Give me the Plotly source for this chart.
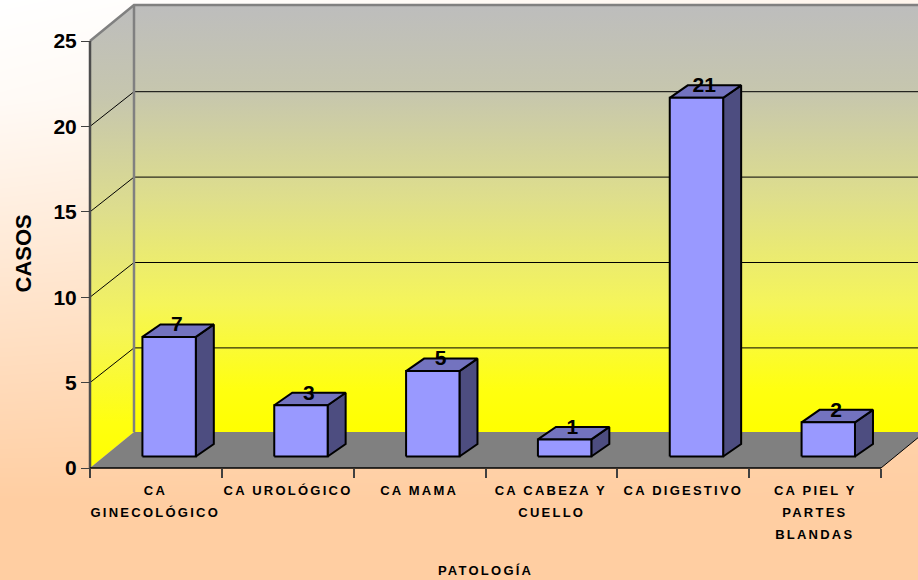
import plotly.graph_objects as go

# Chart data
categories = [
    ["CA", "GINECOLÓGICO"],
    ["CA UROLÓGICO"],
    ["CA MAMA"],
    ["CA CABEZA Y", "CUELLO"],
    ["CA DIGESTIVO"],
    ["CA PIEL Y", "PARTES", "BLANDAS"],
]
casos = [7, 3, 5, 1, 21, 2]
y_ticks = [0, 5, 10, 15, 20, 25]
x_title = "PATOLOGÍA"
y_title = "CASOS"

W, H = 918, 580
LEFT, RIGHT, TOP, BOTTOM = 90, 881, 41, 468

# Pixel-to-data scales of the front plane of the oblique box
SLOT_PX = (RIGHT - LEFT) / len(casos)
UNIT_PX = (BOTTOM - TOP) / max(y_ticks)
X_RANGE = [-LEFT / SLOT_PX, (W - LEFT) / SLOT_PX]
Y_RANGE = [-(H - BOTTOM) / UNIT_PX, BOTTOM / UNIT_PX]


def oblique(x, y, dx_px=0.0, dy_px=0.0):
    """Shift a data point back into the box by a depth given in pixels."""
    return x + dx_px / SLOT_PX, y + dy_px / UNIT_PX


WALL_DX, WALL_DY = 44, 36
GRID_DY = 34.7
BAR_HALF = 26.7 / SLOT_PX
BAR_NEAR = (13.2, 11.5)
BAR_FAR = (31.2, 24)
YMAX = max(y_ticks)
XMAX = len(casos)
GRID = "#000000"
EDGE = "#808080"
PAGE_PEACH = "#FFCEA2"

fig = go.Figure()


def page_y(px):
    """Data-space height of a row given from the top of the page."""
    return Y_RANGE[1] - px / UNIT_PX


# Soft page background, filling the whole figure
fig.add_trace(go.Heatmap(
    x=X_RANGE,
    y=[page_y(H), page_y(500), page_y(390), page_y(190), page_y(100), page_y(0)],
    z=[[0.0, 0.0], [0.0, 0.0], [0.24, 0.12], [0.70, 0.45], [0.90, 0.65], [1.0, 0.8]],
    zmin=0, zmax=1, zsmooth="best", showscale=False, hoverinfo="skip",
    colorscale=[[0, PAGE_PEACH], [1, "#FFFFFF"]],
))


def poly(points, **kw):
    xs = [p[0] for p in points] + [points[0][0]]
    ys = [p[1] for p in points] + [points[0][1]]
    fig.add_trace(go.Scatter(x=xs, y=ys, hoverinfo="skip", showlegend=False, **kw))


def line(points, color, width):
    fig.add_trace(go.Scatter(
        x=[p[0] for p in points], y=[p[1] for p in points], mode="lines",
        line=dict(color=color, width=width), hoverinfo="skip", showlegend=False))


# Wall gradient, grey at the top fading to pure yellow near the floor
wall_scale = [
    [0.0, "#FFFF00"], [0.10, "#FFFF10"], [0.30, "#F5F55A"], [0.55, "#DEDE8C"],
    [0.80, "#C6C6AE"], [1.0, "#BDBDBD"],
]
wall_floor = oblique(0, 0, 0, WALL_DY)[1]
wall_top = oblique(0, YMAX, 0, WALL_DY)[1]
gradient = dict(type="vertical", colorscale=wall_scale, start=wall_floor, stop=wall_top)

# Back wall
poly([oblique(0, 0, WALL_DX, WALL_DY), oblique(XMAX, 0, WALL_DX, WALL_DY),
      oblique(XMAX, YMAX, WALL_DX, WALL_DY), oblique(0, YMAX, WALL_DX, WALL_DY)],
     mode="none", fill="toself", fillgradient=gradient)
# Left wall
poly([(0, 0), oblique(0, 0, WALL_DX, WALL_DY),
      oblique(0, YMAX, WALL_DX, WALL_DY), (0, YMAX)],
     mode="none", fill="toself", fillgradient=dict(
         type="vertical", colorscale=wall_scale, start=0, stop=wall_top))
# Floor
poly([(0, 0), (XMAX, 0), oblique(XMAX, 0, WALL_DX, WALL_DY), oblique(0, 0, WALL_DX, WALL_DY)],
     mode="none", fill="toself", fillcolor="#808080")

# Gridlines along left wall and back wall
for v in y_ticks[1:-1]:
    line([(0, v), oblique(0, v, WALL_DX, GRID_DY), oblique(XMAX, v, WALL_DX, GRID_DY)], GRID, 1)

# Box edges
line([oblique(0, 0, WALL_DX, WALL_DY), oblique(0, YMAX, WALL_DX, WALL_DY)], EDGE, 2.5)
line([(0, YMAX), oblique(0, YMAX, WALL_DX, WALL_DY), oblique(XMAX, YMAX, WALL_DX, WALL_DY)], EDGE, 2.5)
line([(XMAX, 0), oblique(XMAX, 0, WALL_DX, WALL_DY)], "#000000", 1)

# Front axis lines
line([(0, 0), (0, YMAX)], "#4D4D4D", 2.5)
line([(0, 0), (XMAX, 0)], "#000000", 1.5)

# Bars as three faces each
for i, v in enumerate(casos):
    xl, xr = i + 0.5 - BAR_HALF, i + 0.5 + BAR_HALF
    fl0 = oblique(xl, 0, *BAR_NEAR)
    fr0 = oblique(xr, 0, *BAR_NEAR)
    fl1 = oblique(xl, v, *BAR_NEAR)
    fr1 = oblique(xr, v, *BAR_NEAR)
    br0 = oblique(xr, 0, *BAR_FAR)
    br1 = oblique(xr, v, *BAR_FAR)
    bl1 = oblique(xl, v, *BAR_FAR)
    outline = dict(color="#000000", width=2)
    poly([fr0, br0, br1, fr1], mode="lines", fill="toself", fillcolor="#4D4D80", line=outline)
    poly([fl1, fr1, br1, bl1], mode="lines", fill="toself", fillcolor="#7373BF", line=outline)
    poly([fl0, fr0, fr1, fl1], mode="lines", fill="toself", fillcolor="#9999FF", line=outline)

# Value labels above each bar
label_pts = [oblique(i + 0.5, v, 21, 22.5) for i, v in enumerate(casos)]
fig.add_trace(go.Scatter(
    x=[p[0] for p in label_pts], y=[p[1] for p in label_pts], mode="text",
    text=[str(v) for v in casos], textposition="middle center",
    textfont=dict(family="Liberation Sans", size=21, color="#000000", weight="bold"),
    hoverinfo="skip", showlegend=False,
))

caption_font = dict(family="Liberation Sans", size=13, color="#000000", weight="bold")

# Category labels, line by line with a wide leading
annotations = []
for i, lines in enumerate(categories):
    for j, txt in enumerate(lines):
        annotations.append(dict(
            x=i + 0.5, y=0, xref="x", yref="y", yshift=-22 - 22 * j,
            text=txt, showarrow=False, xanchor="center", yanchor="middle",
            font=caption_font,
        ))

# Axis captions placed beside the box
annotations.append(dict(
    x=XMAX / 2, y=0, xref="x", yref="y", yshift=-102,
    text=x_title, showarrow=False, xanchor="center", yanchor="middle",
    font=caption_font,
))
annotations.append(dict(
    x=0, y=YMAX / 2, xref="x", yref="y", xshift=-67.5, yshift=0.5, textangle=-90,
    text=y_title, showarrow=False, xanchor="center", yanchor="middle",
    font=dict(family="Liberation Sans", size=22, color="#000000", weight="bold"),
))

fig.update_layout(
    width=W, height=H, margin=dict(l=0, r=0, t=0, b=0),
    paper_bgcolor=PAGE_PEACH, plot_bgcolor="rgba(0,0,0,0)", showlegend=False,
    annotations=annotations,
    xaxis=dict(
        domain=[0, 1], range=X_RANGE, anchor="free", position=1 - BOTTOM / H,
        showgrid=False, zeroline=False, showline=False, automargin=False, fixedrange=True,
        tickvals=list(range(XMAX + 1)), ticktext=[""] * (XMAX + 1),
        ticks="outside", ticklen=9, tickcolor="#404040", tickwidth=1.5,
    ),
    yaxis=dict(
        domain=[0, 1], range=Y_RANGE, anchor="free", position=LEFT / W,
        showgrid=False, zeroline=False, showline=False, automargin=False, fixedrange=True,
        tickvals=y_ticks, ticks="outside", ticklen=9, tickcolor="#404040", tickwidth=1,
        tickfont=dict(family="Liberation Sans", size=21, color="#000000", weight="bold"),
    ),
)

# Tracked-out lettering on the horizontal captions only
last = len(annotations) - 1
spacing_css = (
    "var s=document.createElement('style');"
    "s.textContent='.annotation-text{letter-spacing:2.25px}"
    f".annotation[data-index=\"{last}\"] .annotation-text{{letter-spacing:0}}';"
    "document.head.appendChild(s);"
)
fig.write_html("out.html", post_script=spacing_css)
